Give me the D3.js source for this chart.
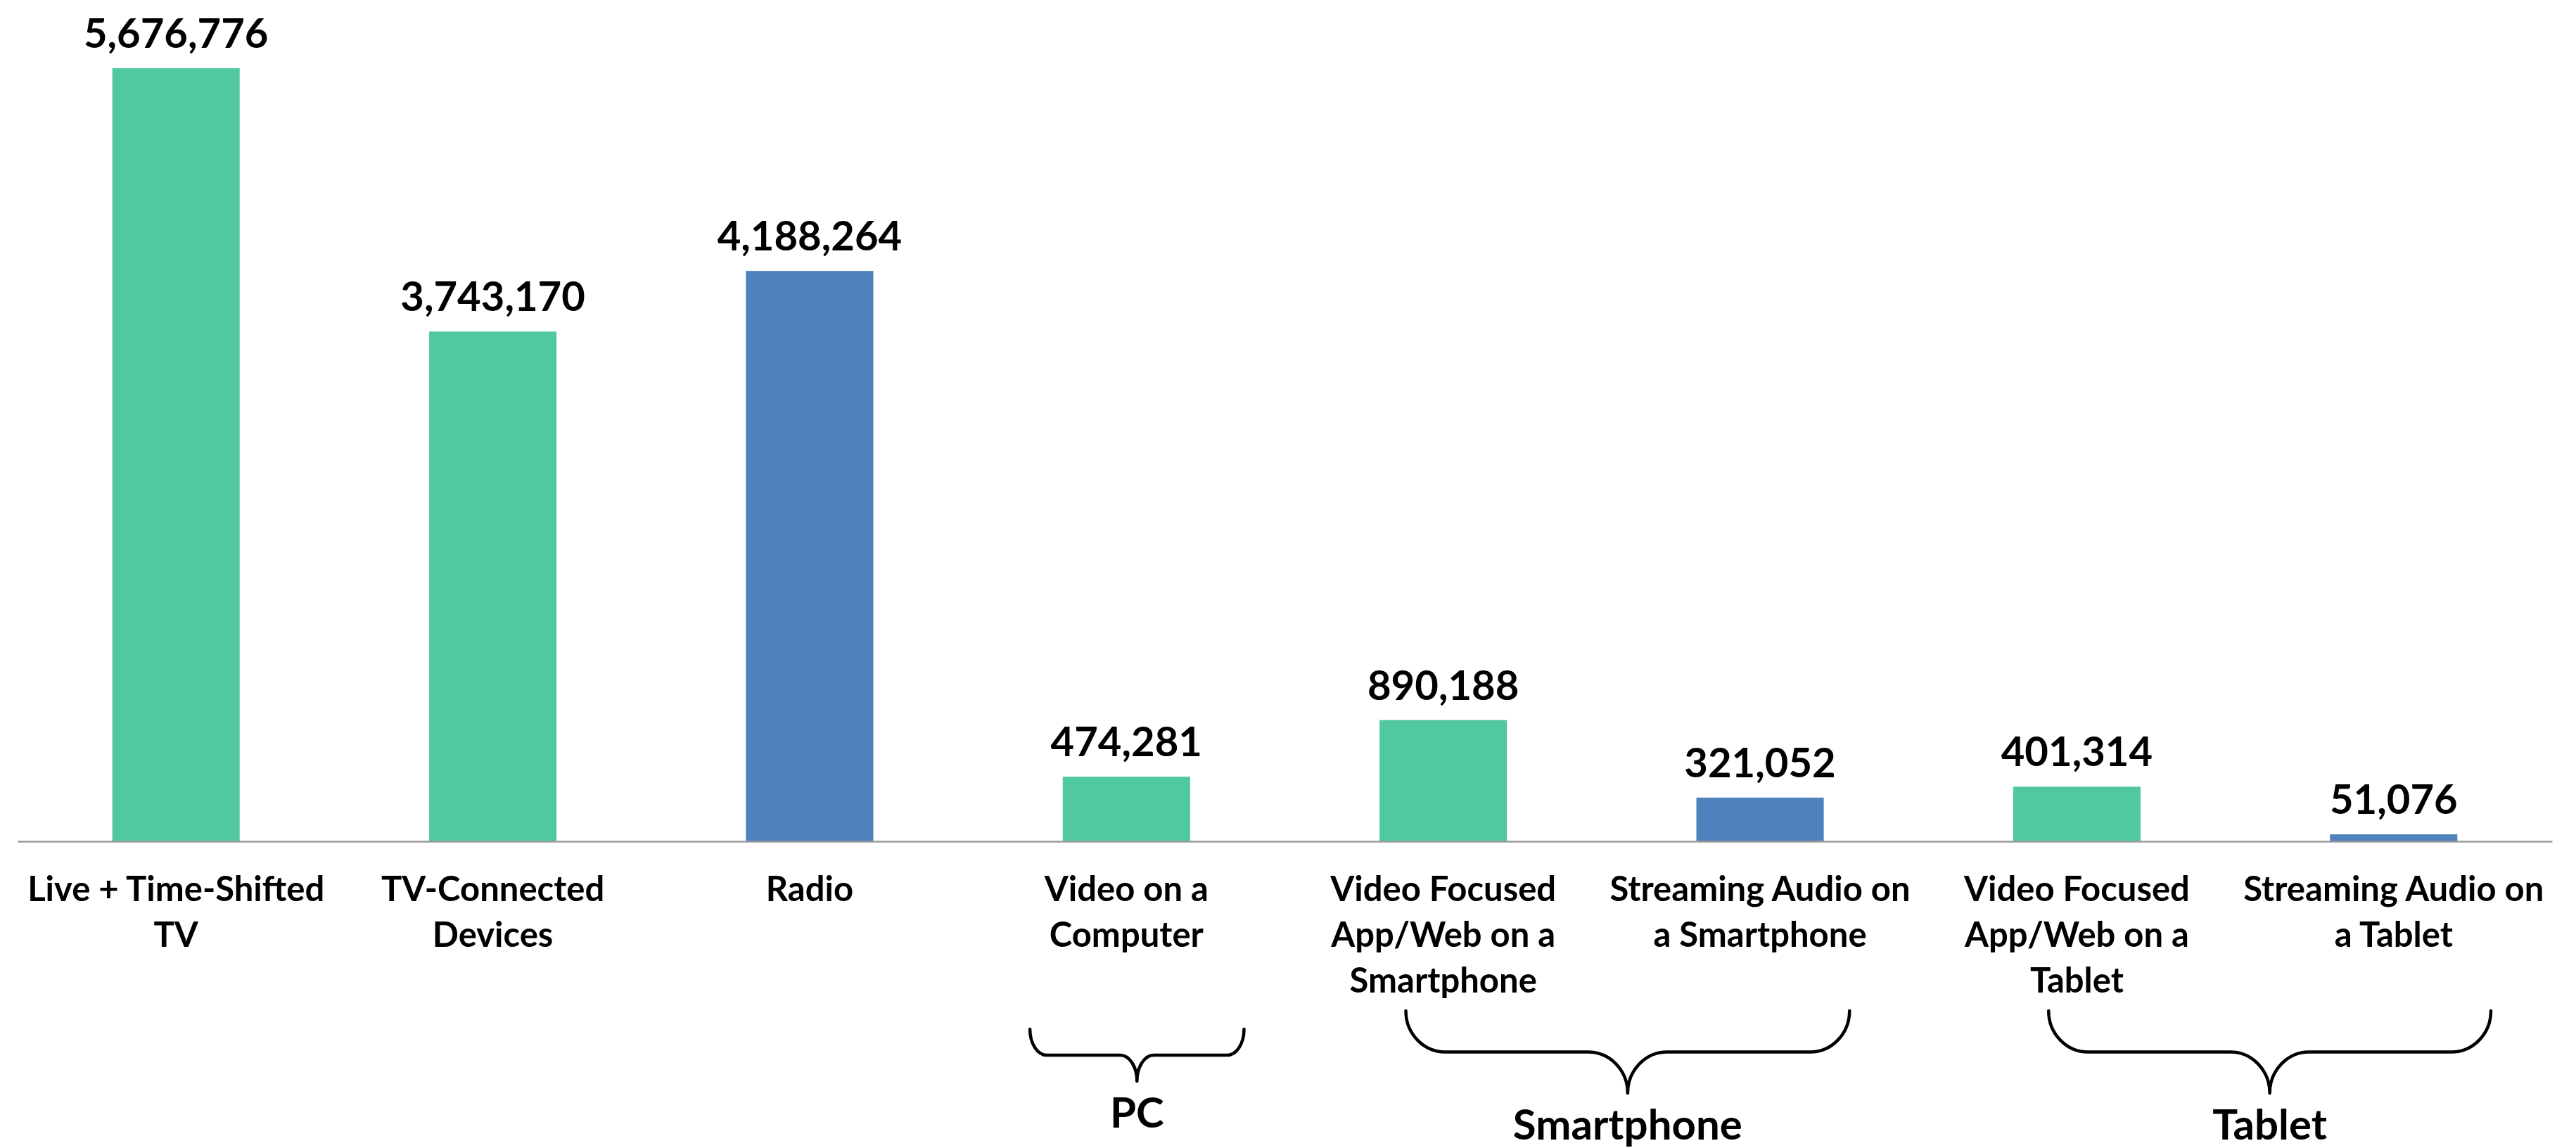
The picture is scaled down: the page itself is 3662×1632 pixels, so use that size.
<!DOCTYPE html>
<html>
<head>
<meta charset="utf-8">
<script src="https://cdn.jsdelivr.net/npm/d3@7"></script>
<style>
  html, body { margin: 0; padding: 0; background: #ffffff; }
  svg { display: block; }
  text { font-family: "Lato", "Carlito", "Calibri", sans-serif; font-weight: 700; fill: #000; }
</style>
</head>
<body>
<svg id="chart"></svg>
<script>
// ---------- data ----------
const categories = [
  "Live + Time-Shifted\nTV",
  "TV-Connected\nDevices",
  "Radio",
  "Video on a\nComputer",
  "Video Focused\nApp/Web on a\nSmartphone",
  "Streaming Audio on\na Smartphone",
  "Video Focused\nApp/Web on a\nTablet",
  "Streaming Audio on\na Tablet"
];
const values = [5676776, 3743170, 4188264, 474281, 890188, 321052, 401314, 51076];
const mediaType = ["video", "video", "audio", "video", "video", "audio", "video", "audio"];
const groupNames = ["PC", "Smartphone", "Tablet"];
const groupFirst = [3, 4, 6];
const groupLast  = [3, 5, 7];

// ---------- layout ----------
const W = 3662, H = 1632;
const axisY = 1196;
const plotLeft = 25, plotRight = 3628;
const yMaxDomain = 6000000;
const yTopPx = 34.4;
const colors = { video: "#51C9A0", audio: "#4F81BD" };
// brace geometry (annotation layout): insets from band edges, top, depth, corner radius
const braceLayout = [
  { inL: 88,  inR: 58, top: 1463, depth: 74,  r: 24 },
  { inL: 172, inR: 98, top: 1437, depth: 117, r: 56 },
  { inL: 185, inR: 87, top: 1437, depth: 117, r: 56 }
];

const svg = d3.select("#chart").attr("width", W).attr("height", H);

const x = d3.scaleBand()
  .domain(d3.range(categories.length))
  .range([plotLeft, plotRight])
  .paddingInner(0.598)
  .paddingOuter(0.299);

const y = d3.scaleLinear().domain([0, yMaxDomain]).range([axisY, yTopPx]);
const color = d3.scaleOrdinal().domain(["video", "audio"]).range([colors.video, colors.audio]);
const fmt = d3.format(",");

// bars
svg.append("g").selectAll("rect")
  .data(values)
  .join("rect")
  .attr("x", (d, i) => x(i))
  .attr("y", d => y(d))
  .attr("width", x.bandwidth())
  .attr("height", d => y(0) - y(d))
  .attr("fill", (d, i) => color(mediaType[i]));

// value labels
svg.append("g").selectAll("text")
  .data(values)
  .join("text")
  .attr("x", (d, i) => x(i) + x.bandwidth() / 2)
  .attr("y", d => y(d) - 29)
  .attr("text-anchor", "middle")
  .style("font-size", "58px")
  .text(d => fmt(d));

// x axis
const xAxis = d3.axisBottom(x).tickSize(0).tickFormat("");
const gx = svg.append("g").attr("transform", `translate(0,${axisY})`).call(xAxis);
gx.select(".domain").attr("stroke", "#9a9a9a").attr("stroke-width", 2.5);

// category labels (multi-line)
const catG = svg.append("g");
categories.forEach((c, i) => {
  const t = catG.append("text")
    .attr("x", x(i) + x.bandwidth() / 2)
    .attr("y", 1281)
    .attr("text-anchor", "middle")
    .style("font-size", "49px");
  c.split("\n").forEach((line, j) => {
    t.append("tspan")
      .attr("x", x(i) + x.bandwidth() / 2)
      .attr("dy", j === 0 ? 0 : 65)
      .text(line);
  });
});

// braces + group labels
const step = x.step();
const k = 0.5523;
function bracePath(x0, x1, top, depth, r) {
  const ym = top + depth / 2, yb = top + depth, cx = (x0 + x1) / 2;
  const ry = ym - top, cy = yb - ym;
  const c = r;
  const p = d3.path();
  p.moveTo(x0, top);
  p.bezierCurveTo(x0, top + k * ry, x0 + r - k * r, ym, x0 + r, ym);
  p.lineTo(cx - c, ym);
  p.bezierCurveTo(cx - c + k * c, ym, cx, yb - k * cy, cx, yb);
  p.moveTo(x1, top);
  p.bezierCurveTo(x1, top + k * ry, x1 - r + k * r, ym, x1 - r, ym);
  p.lineTo(cx + c, ym);
  p.bezierCurveTo(cx + c - k * c, ym, cx, yb - k * cy, cx, yb);
  return p.toString();
}
const braceG = svg.append("g");
groupNames.forEach((g, gi) => {
  const L = braceLayout[gi];
  const bandStart = x(groupFirst[gi]) - step * x.paddingInner() / 2;
  const bandEnd = x(groupLast[gi]) + x.bandwidth() + step * x.paddingInner() / 2;
  const x0 = bandStart + L.inL, x1 = bandEnd - L.inR;
  braceG.append("path")
    .attr("d", bracePath(x0, x1, L.top, L.depth, L.r))
    .attr("fill", "none")
    .attr("stroke", "#000")
    .attr("stroke-width", 4.5)
    .attr("stroke-linecap", "round");
  braceG.append("text")
    .attr("x", (x0 + x1) / 2)
    .attr("y", L.top + L.depth + 66)
    .attr("text-anchor", "middle")
    .style("font-size", "60px")
    .text(g);
});
</script>
</body>
</html>
